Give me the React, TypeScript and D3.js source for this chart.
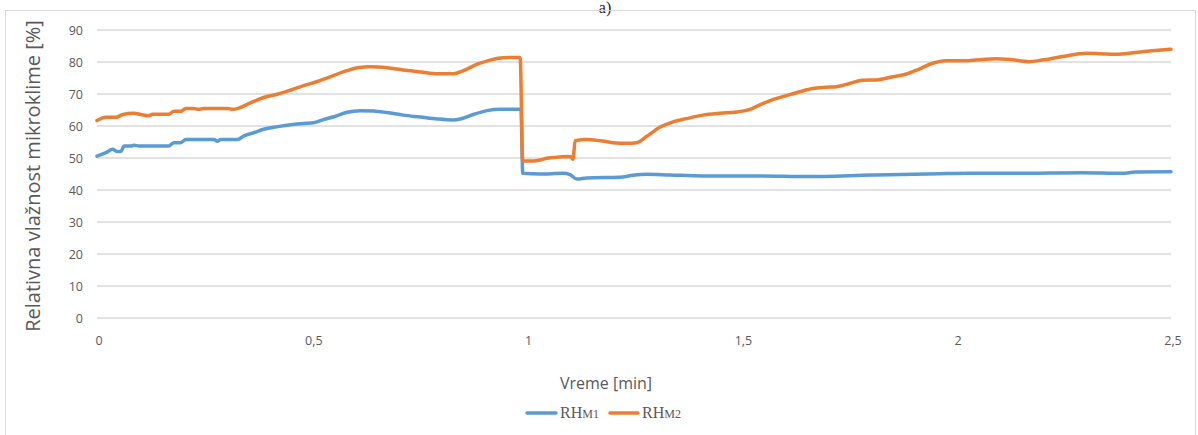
import React from "react";
import * as d3 from "d3";

const yTicks = [0, 10, 20, 30, 40, 50, 60, 70, 80, 90];
const xTicks = [0, 0.5, 1, 1.5, 2, 2.5];
const xTickLabels = ["0", "0,5", "1", "1,5", "2", "2,5"];

const timeM2 = [0, 0.021, 0.044, 0.06, 0.086, 0.102, 0.121, 0.129, 0.167, 0.179, 0.195, 0.207, 0.225, 0.237, 0.249, 0.304, 0.316, 0.33, 0.358, 0.388, 0.421, 0.451, 0.481, 0.513, 0.539, 0.582, 0.606, 0.637, 0.675, 0.713, 0.753, 0.792, 0.829, 0.853, 0.885, 0.915, 0.946, 0.985, 0.991, 1.015, 1.032, 1.047, 1.078, 1.101, 1.108, 1.113, 1.14, 1.171, 1.201, 1.233, 1.256, 1.279, 1.31, 1.341, 1.372, 1.41, 1.45, 1.489, 1.52, 1.543, 1.57, 1.605, 1.636, 1.666, 1.698, 1.721, 1.752, 1.782, 1.814, 1.852, 1.884, 1.914, 1.945, 1.976, 2.023, 2.062, 2.093, 2.124, 2.17, 2.2, 2.247, 2.302, 2.333, 2.372, 2.418, 2.456, 2.5];
const rhM2 = [61.7, 62.7, 62.7, 63.6, 64.0, 63.6, 63.2, 63.7, 63.7, 64.6, 64.6, 65.5, 65.5, 65.2, 65.5, 65.5, 65.2, 65.6, 67.3, 68.9, 70.0, 71.25, 72.6, 73.9, 75.2, 77.3, 78.2, 78.5, 78.2, 77.5, 76.9, 76.3, 76.3, 77.3, 79.3, 80.6, 81.35, 81.4, 49.1, 49.1, 49.4, 49.9, 50.3, 50.5, 49.6, 55.4, 55.8, 55.4, 54.8, 54.6, 54.8, 56.7, 59.6, 61.3, 62.3, 63.4, 64.0, 64.4, 65.2, 66.6, 68.1, 69.5, 70.7, 71.7, 72.1, 72.3, 73.3, 74.3, 74.4, 75.4, 76.25, 77.8, 79.6, 80.4, 80.4, 80.8, 81.0, 80.8, 80.1, 80.6, 81.7, 82.7, 82.6, 82.4, 83.0, 83.5, 84.0];

const timeM1 = [0, 0.021, 0.036, 0.048, 0.056, 0.063, 0.079, 0.086, 0.098, 0.167, 0.179, 0.195, 0.207, 0.272, 0.28, 0.288, 0.327, 0.342, 0.365, 0.388, 0.421, 0.451, 0.481, 0.504, 0.527, 0.551, 0.582, 0.613, 0.644, 0.675, 0.713, 0.753, 0.792, 0.829, 0.846, 0.876, 0.908, 0.939, 0.987, 0.991, 1.032, 1.085, 1.101, 1.117, 1.14, 1.217, 1.248, 1.279, 1.333, 1.41, 1.543, 1.652, 1.805, 1.961, 2.031, 2.14, 2.293, 2.386, 2.418, 2.5];
const rhM1 = [50.6, 51.7, 52.7, 52.0, 52.1, 53.75, 53.75, 54.0, 53.75, 53.75, 54.8, 54.8, 55.8, 55.8, 55.2, 55.8, 55.8, 56.9, 57.9, 59.0, 59.8, 60.4, 60.8, 61.0, 62.0, 62.9, 64.3, 64.8, 64.7, 64.2, 63.4, 62.8, 62.2, 61.9, 62.2, 63.6, 64.8, 65.2, 65.2, 45.2, 45.0, 45.2, 44.8, 43.4, 43.75, 44.0, 44.6, 44.9, 44.7, 44.4, 44.4, 44.2, 44.7, 45.1, 45.2, 45.2, 45.4, 45.2, 45.6, 45.7];

const BLUE = "#5B9BD5";
const ORANGE = "#ED7D31";
const GRAY = "#595959";

export default function App() {
  const x = d3.scaleLinear().domain([0, 2.5]).range([97, 1171]);
  const y = d3.scaleLinear().domain([0, 90]).range([318, 30]);
  const line = d3
    .line<[number, number]>()
    .x((d) => x(d[0]))
    .y((d) => y(d[1]))
    .curve(d3.curveMonotoneX);
  const m1 = timeM1.map((t, i) => [t, rhM1[i]] as [number, number]);
  const m2 = timeM2.map((t, i) => [t, rhM2[i]] as [number, number]);
  const sans = "'Open Sans', sans-serif";
  const serif = "'Liberation Serif', 'Times New Roman', serif";
  return (
    <svg
      width={1198}
      height={435}
      style={{ position: "absolute", left: 0, top: 0, background: "#fff" }}
    >
      <rect x={0} y={0} width={1198} height={435} fill="#fff" />
      <text x={605} y={13} textAnchor="middle" fontFamily={serif} fontSize={16} fill="#222">
        a)
      </text>
      <rect x={5.5} y={10.5} width={1190} height={440} fill="none" stroke="#d9d9d9" strokeWidth={1} />
      {yTicks.map((t) => (
        <g key={t}>
          <line x1={x(0)} x2={x(2.5)} y1={y(t)} y2={y(t)} stroke="#d9d9d9" strokeWidth={1.3} />
          <text x={83} y={y(t) + 4.5} textAnchor="end" fontFamily={sans} fontSize={12.5} fill={GRAY}>
            {t}
          </text>
        </g>
      ))}
      {xTicks.map((t, i) => (
        <text key={t} x={x(t) + 2} y={345} textAnchor="middle" fontFamily={sans} fontSize={12.5} fill={GRAY}>
          {xTickLabels[i]}
        </text>
      ))}
      <text
        transform={`translate(40,176) rotate(-90)`}
        textAnchor="middle"
        fontFamily={sans}
        fontSize={20}
        fill={GRAY}
      >
        Relativna vlažnost mikroklime [%]
      </text>
      <text x={606} y={389} textAnchor="middle" fontFamily={sans} fontSize={16} fill={GRAY}>
        Vreme [min]
      </text>
      <path d={line(m1) || ""} fill="none" stroke={BLUE} strokeWidth={3.5} strokeLinejoin="round" strokeLinecap="round" />
      <path d={line(m2) || ""} fill="none" stroke={ORANGE} strokeWidth={3.5} strokeLinejoin="round" strokeLinecap="round" />
      <line x1={527} x2={556} y1={413} y2={413} stroke={BLUE} strokeWidth={3.5} strokeLinecap="round" />
      <text x={560} y={418} fontFamily={serif} fontSize={16} fill={GRAY}>
        RH<tspan fontSize={12}>M1</tspan>
      </text>
      <line x1={610} x2={638} y1={413} y2={413} stroke={ORANGE} strokeWidth={3.5} strokeLinecap="round" />
      <text x={642} y={418} fontFamily={serif} fontSize={16} fill={GRAY}>
        RH<tspan fontSize={12}>M2</tspan>
      </text>
    </svg>
  );
}
